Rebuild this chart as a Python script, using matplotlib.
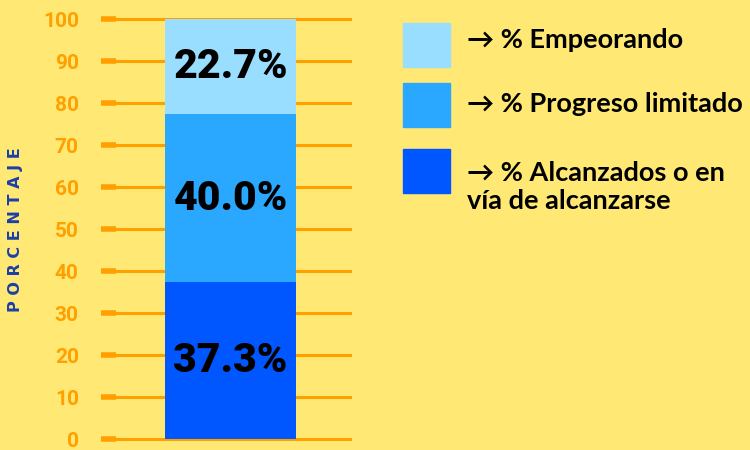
import matplotlib.pyplot as plt
from matplotlib.patches import Rectangle

# datos
valores = [37.3, 40.0, 22.7]
colores = ['#0057FF', '#2AA8FF', '#99DDFF']
etiquetas_leyenda = ['→ % Empeorando', '→ % Progreso limitado',
                     '→ % Alcanzados o en\nvía de alcanzarse']
colores_leyenda = ['#99DDFF', '#2AA8FF', '#0057FF']
ticks = list(range(0, 101, 10))

fondo = '#FFE873'
naranja = '#FFA000'

fig = plt.figure(figsize=(7.5, 4.5), dpi=100, facecolor=fondo)
ax = fig.add_axes([101/750, 0.0151, 251/750, 0.952])
ax.set_facecolor(fondo)

for t in ticks:
    ax.axhline(t, color=naranja, lw=2.2, zorder=1)

base = 0
for v, c in zip(valores, colores):
    ax.text(0, base + v/2, f'{v:.1f}%', ha='center', va='center',
            fontsize=29.5, fontweight='black', family='Roboto', color='black', zorder=3)
    ax.bar(0, v, bottom=base, width=1, color=c, zorder=2)
    base += v

ax.set_xlim(-0.989, 0.927)
ax.set_ylim(-1, 101)
ax.set_xticks([])
ax.set_yticks(ticks)
ax.tick_params(axis='y', direction='in', length=10.5, width=4, color=naranja,
               pad=16, labelcolor=naranja, labelsize=15)
for lb in ax.get_yticklabels():
    lb.set_fontweight('bold')
    lb.set_family('Roboto')
for s in ax.spines.values():
    s.set_visible(False)

fig.text(16/750, 1 - 230/450, 'P O R C E N T A J E', rotation=90, ha='center', va='center',
         fontsize=11.5, fontweight='bold', color='#1A3FA8', family='DejaVu Sans')

# leyenda
ys = [45, 105, 171]
ys_texto = [40, 104, 187]
for y, yt, txt, c in zip(ys, ys_texto, etiquetas_leyenda, colores_leyenda):
    fig.patches.append(Rectangle((403/750, 1 - (y + 22)/450), 47/750, 44/450,
                                 transform=fig.transFigure, color=c))
    fig.text(467/750, 1 - yt/450, txt, ha='left', va='center',
             fontsize=19.5, fontweight='bold', family='Lato', color='black', linespacing=1.2)

fig.savefig('out.png', dpi=100, facecolor=fondo)
